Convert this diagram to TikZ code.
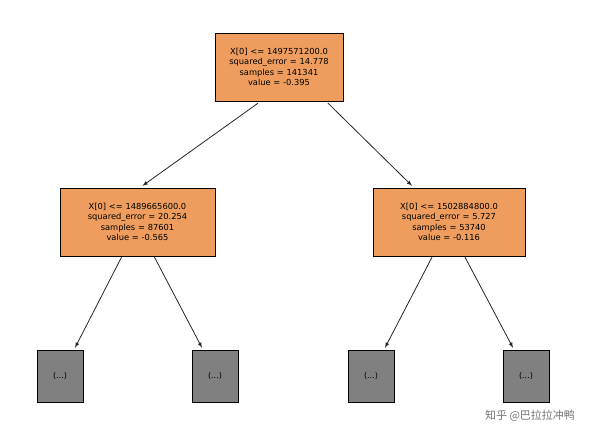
\documentclass[tikz,border=0pt]{standalone}
\usepackage{fontspec}
\setmainfont{DejaVu Sans}
\newfontfamily\cjk{Noto Sans CJK SC}
\usetikzlibrary{calc}
\begin{document}
\begin{tikzpicture}[x=1pt,y=-1pt,
  split/.style={draw=black,fill=orange!55!white,fill=orangec,align=center,font=\fontsize{8.3}{10.5}\selectfont,inner sep=2pt,minimum height=68,text width=150},
  leaf/.style={draw=black,fill=gray!100,fill=grayc,minimum width=46,minimum height=52,font=\fontsize{8}{10}\selectfont,inner sep=0pt},
  arr/.style={-latex,thick,black!85}]
\definecolor{orangec}{HTML}{EE9D5E}
\definecolor{grayc}{HTML}{808080}
\useasboundingbox (0,0) rectangle (600,444);
\fill[white] (0,0) rectangle (600,444);
\node[split,text width=124] (root) at (279,67) {X[0] <= 1497571200.0\\squared\_error = 14.778\\samples = 141341\\value = -0.395};
\node[split,text width=151] (l) at (137.5,222) {X[0] <= 1489665600.0\\squared\_error = 20.254\\samples = 87601\\value = -0.565};
\node[split,text width=148] (r) at (449,222) {X[0] <= 1502884800.0\\squared\_error = 5.727\\samples = 53740\\value = -0.116};
\node[leaf] (ll) at (60,376) {(...)};
\node[leaf] (lr) at (215,376) {(...)};
\node[leaf] (rl) at (371,376) {(...)};
\node[leaf] (rr) at (526,376) {(...)};
\draw[arr] ($(root.south)+(-21,2)$) -- ($(l.north)+(5,-2)$);
\draw[arr] ($(root.south)+(49,2)$) -- ($(r.north)+(-37,-2)$);
\draw[arr] ($(l.south)+(-16,1)$) -- ($(ll.north)+(15,-2)$);
\draw[arr] ($(l.south)+(17,1)$) -- ($(lr.north)+(-13,-2)$);
\draw[arr] ($(r.south)+(-17,1)$) -- ($(rl.north)+(14,-2)$);
\draw[arr] ($(r.south)+(16,1)$) -- ($(rr.north)+(-13,-2)$);
\node[font=\cjk\fontsize{11}{13}\selectfont,text=black!55] (wm) at (530,416) {知乎 @巴拉拉冲鸭};
\end{tikzpicture}
\end{document}
